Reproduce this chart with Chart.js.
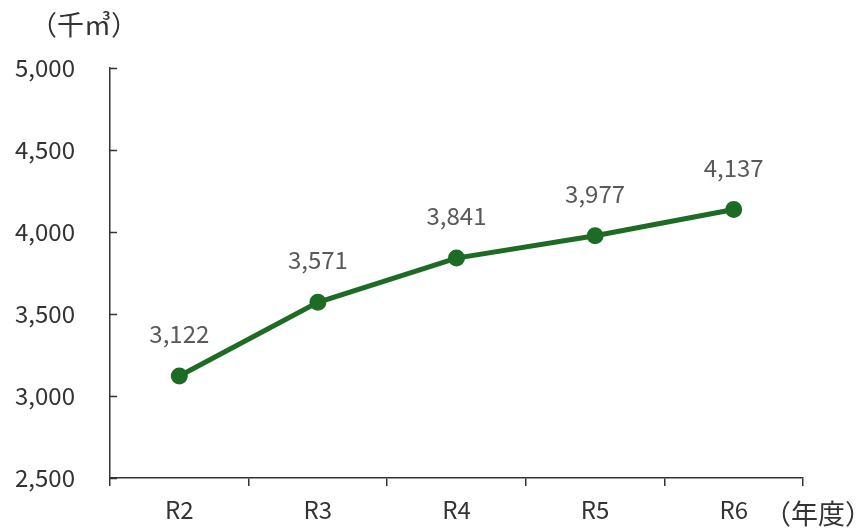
<!DOCTYPE html>
<html>
<head>
<meta charset="utf-8">
<script src="https://cdn.jsdelivr.net/npm/chart.js@4"></script>
<style>
  html, body { margin: 0; padding: 0; background: #fff; }
  #wrap { width: 864px; height: 530px; position: relative; }
</style>
</head>
<body>
<div id="wrap"><canvas id="chart"></canvas></div>
<script>
const categories = ["R2", "R3", "R4", "R5", "R6"];
const volumes = [3122, 3571, 3841, 3977, 4137];
const yTicks = [2500, 3000, 3500, 4000, 4500, 5000];
const unitLabel = "（千㎥）";
const yearLabel = "（年度）";

const FONT = "'Noto Sans CJK JP', 'Noto Sans', sans-serif";
const GREEN = "#1d6b24";

const extras = {
  id: "extras",
  afterDraw(chart) {
    const { ctx, scales: { x, y } } = chart;
    ctx.save();
    // inward tick marks on y axis
    ctx.strokeStyle = "#333";
    ctx.lineWidth = 1.5;
    yTicks.forEach((v) => {
      const py = Math.round(y.getPixelForValue(v)) + 0.5;
      ctx.beginPath();
      ctx.moveTo(x.left, py);
      ctx.lineTo(x.left + 7, py);
      ctx.stroke();
    });
    // value labels
    ctx.fillStyle = "#595959";
    ctx.font = "24px " + FONT;
    ctx.textAlign = "center";
    ctx.textBaseline = "middle";
    const meta = chart.getDatasetMeta(0);
    meta.data.forEach((pt, i) => {
      ctx.fillText(volumes[i].toLocaleString("en-US"), pt.x, pt.y - 42);
    });
    // unit labels
    ctx.fillStyle = "#333";
    ctx.font = "27px " + FONT;
    ctx.textAlign = "left";
    ctx.fillText(unitLabel, 30, 25);
    ctx.fillText(yearLabel, 764, 514);
    ctx.restore();
  }
};

new Chart(document.getElementById("chart"), {
  type: "line",
  data: {
    labels: categories,
    datasets: [{
      data: volumes,
      borderColor: GREEN,
      backgroundColor: GREEN,
      borderWidth: 5,
      pointRadius: 6,
      pointHoverRadius: 6,
      tension: 0
    }]
  },
  options: {
    responsive: true,
    maintainAspectRatio: false,
    animation: false,
    layout: { padding: { left: 0, top: 68, right: 61, bottom: 0 } },
    plugins: { legend: { display: false }, tooltip: { enabled: false } },
    scales: {
      x: {
        offset: true,
        grid: { offset: true, drawOnChartArea: false, drawTicks: true, tickLength: 8, color: "#333", lineWidth: 1.5 },
        border: { display: true, color: "#333", width: 1.5 },
        ticks: { color: "#333", font: { family: FONT, size: 24 }, padding: 9 },
        afterFit: (scale) => { scale.height = 52; }
      },
      y: {
        min: 2500,
        max: 5000,
        afterBuildTicks: (scale) => { scale.ticks = yTicks.map((v) => ({ value: v })); },
        grid: { display: false, drawTicks: false },
        border: { display: true, color: "#333", width: 1.5 },
        ticks: {
          color: "#333",
          font: { family: FONT, size: 24 },
          padding: 35,
          callback: (v) => v.toLocaleString("en-US")
        },
        afterFit: (scale) => { scale.width = 110; }
      }
    }
  },
  plugins: [extras]
});
</script>
</body>
</html>
